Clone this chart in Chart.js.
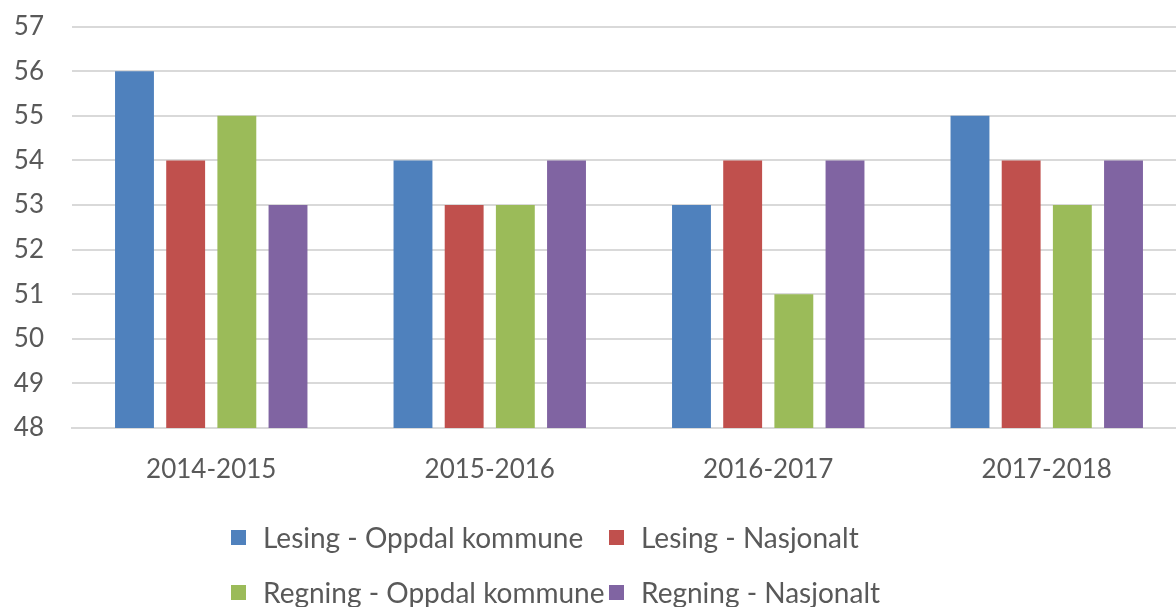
<!DOCTYPE html>
<html>
<head>
<meta charset="utf-8">
<script src="https://cdn.jsdelivr.net/npm/chart.js@4/dist/chart.umd.min.js"></script>
<style>
    html, body { margin: 0; padding: 0; background: #fff; overflow: hidden; }
    #wrap { position: relative; width: 1176px; height: 607px; overflow: hidden; }
    #chart { position: absolute; left: 0; top: -17px; }
    #legend {
        position: absolute; left: 231px; top: 521px;
        display: grid; grid-template-columns: 378px auto; row-gap: 23px;
        font-family: Lato, sans-serif; font-size: 28px; color: #595959;
    }
    .item { display: flex; align-items: center; white-space: nowrap; height: 32px; }
    .box { width: 15px; height: 15px; margin-right: 17px; }
</style>
</head>
<body>
<div id="wrap">
    <canvas id="chart" width="1186" height="624"></canvas>
    <div id="legend"></div>
</div>
<script>
// Chart data
const years = ['2014-2015', '2015-2016', '2016-2017', '2017-2018'];
const seriesNames = ['Lesing - Oppdal kommune', 'Lesing - Nasjonalt', 'Regning - Oppdal kommune', 'Regning - Nasjonalt'];
const lesingOppdal = [56, 54, 53, 55];
const lesingNasjonalt = [54, 53, 54, 54];
const regningOppdal = [55, 53, 51, 53];
const regningNasjonalt = [53, 54, 54, 54];
const colors = ['#4F81BD', '#C0504D', '#9BBB59', '#8064A2'];

document.addEventListener('DOMContentLoaded', function() {
    const ctx = document.getElementById('chart').getContext('2d');
    const allData = [lesingOppdal, lesingNasjonalt, regningOppdal, regningNasjonalt];

    const datasets = allData.map(function(d, i) {
        return {
            label: seriesNames[i],
            data: d,
            backgroundColor: colors[i],
            categoryPercentage: 0.735,
            barPercentage: 0.76
        };
    });

    // canvas is a bit larger than the page; the plot runs past the right edge like the original
    new Chart(ctx, {
        type: 'bar',
        data: { labels: years, datasets: datasets },
        options: {
            responsive: false,
            animation: false,
            layout: { padding: { top: 12, right: 0, bottom: 0, left: 0 } },
            plugins: {
                legend: { display: false }, // custom HTML legend below
                tooltip: { enabled: false }
            },
            scales: {
                y: {
                    min: 48,
                    max: 57,
                    ticks: {
                        stepSize: 1,
                        color: '#595959',
                        font: { family: 'Lato', size: 26 },
                        padding: 28
                    },
                    grid: { color: '#D9D9D9', lineWidth: 2, drawTicks: false },
                    border: { display: false },
                    afterFit: function(scale) { scale.width = 72; }
                },
                x: {
                    ticks: {
                        color: '#595959',
                        font: { family: 'Lato', size: 26 },
                        padding: 26
                    },
                    grid: { display: false, drawTicks: false },
                    border: { color: '#D9D9D9', width: 2 },
                    afterFit: function(scale) { scale.height = 179; }
                }
            }
        }
    });

    // Legend in two rows of two
    const legend = document.getElementById('legend');
    seriesNames.forEach(function(name, i) {
        const item = document.createElement('div');
        item.className = 'item';
        const box = document.createElement('span');
        box.className = 'box';
        box.style.background = colors[i];
        const txt = document.createElement('span');
        txt.textContent = name;
        item.appendChild(box);
        item.appendChild(txt);
        legend.appendChild(item);
    });
});
</script>
</body>
</html>
